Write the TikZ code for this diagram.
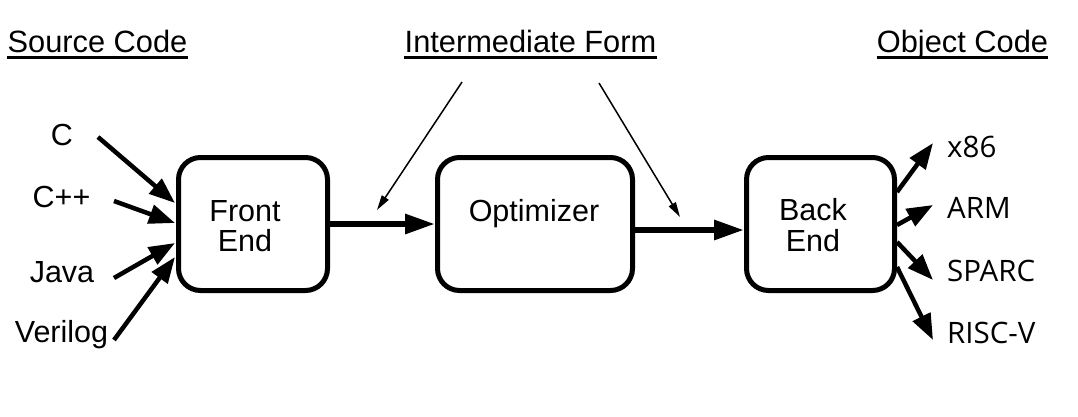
\documentclass[tikz,border=0pt]{standalone}
\usepackage{fontspec}
\setmainfont{Liberation Sans}
\newfontfamily\osans{Open Sans}
\usetikzlibrary{arrows.meta,calc}
\tikzset{
  box/.style={draw, line width=5pt, rounded corners=22pt, inner sep=0pt},
  lbl/.style={inner sep=0pt, anchor=base, font=\fontsize{30.5}{32}\selectfont},
  rlbl/.style={inner sep=0pt, anchor=base west, font=\osans\fontsize{29.5}{32}\selectfont},
  head/.style={inner sep=0pt, anchor=base, font=\fontsize{30.8}{32}\selectfont},
  mainarr/.style={line width=6pt, -{Triangle[length=30pt,width=19pt]}},
  inarr/.style={line width=4.5pt, -{Triangle[length=26pt,width=19pt]}},
  thinarr/.style={line width=1.5pt, -{Triangle[length=15pt,width=8pt]}},
  uline/.style={line width=3pt}
}
\begin{document}
\begin{tikzpicture}[x=1pt,y=-1pt]
\useasboundingbox (0,0) rectangle (1078,416);
% headings
\node[head] (src) at (97.5,52) {Source Code};
\node[head] (imf) at (530.5,52) {Intermediate Form};
\node[head] (obj) at (962.5,52) {Object Code};
\foreach \h in {src,imf,obj}{
  \draw[uline] ($(\h.base west)+(0,5.5)$) -- ($(\h.base east)+(0,5.5)$);
}
% boxes
\node[box, minimum width=149pt, minimum height=133pt] (fe) at (253,224) {};
\node[box, minimum width=195pt, minimum height=133pt] (opt) at (535,224) {};
\node[box, minimum width=148pt, minimum height=133pt] (be) at (820.5,224) {};
\node[lbl] (feA) at (245,221) {Front};
\node[lbl] (feB) at (245,251) {End};
\node[lbl] (optA) at (534,221) {Optimizer};
\node[lbl] (beA) at (813,220) {Back};
\node[lbl] (beB) at (813,251) {End};
% main arrows
\draw[mainarr] (fe.east) -- (opt.west);
\draw[mainarr] ($(opt.east)+(0,6)$) -- ($(be.west)+(0,6)$);
% thin arrows from heading
\coordinate (t1s) at (462,82);
\coordinate (t1e) at (377,210);
\coordinate (t2s) at (599,83);
\coordinate (t2e) at (680,217);
\draw[thinarr] (t1s) -- (t1e);
\draw[thinarr] (t2s) -- (t2e);
% source languages
\node[lbl] (lc) at (62,145) {C};
\node[lbl] (lcpp) at (61.5,207) {C++};
\node[lbl] (ljava) at (62,282) {Java};
\node[lbl] (lver) at (61.5,342) {Verilog};
\coordinate (s1) at (98,137);
\coordinate (s2) at (114,201);
\coordinate (s3) at (114,278);
\coordinate (s4) at (114,340);
\draw[inarr] (s1) -- ($(fe.west)+(-1,-21)$);
\draw[inarr] (s2) -- ($(fe.west)+(-1,-1)$);
\draw[inarr] (s3) -- ($(fe.west)+(-1,19)$);
\draw[inarr] (s4) -- ($(fe.west)+(-1,33)$);
% targets
\node[rlbl] (tx) at (947,157) {x86};
\node[rlbl] (tarm) at (947,218) {ARM};
\node[rlbl] (tsp) at (947,281) {SPARC};
\node[rlbl] (trv) at (947,343) {RISC-V};
\coordinate (e1) at (933,143);
\coordinate (e2) at (933,205);
\coordinate (e3) at (933,280);
\coordinate (e4) at (933,340);
\draw[inarr] ($(be.east)+(0,-32)$) -- (e1);
\draw[inarr] ($(be.east)+(0,1)$) -- (e2);
\draw[inarr] ($(be.east)+(0,18)$) -- (e3);
\draw[inarr] ($(be.east)+(0,43)$) -- (e4);
\end{tikzpicture}
\end{document}
